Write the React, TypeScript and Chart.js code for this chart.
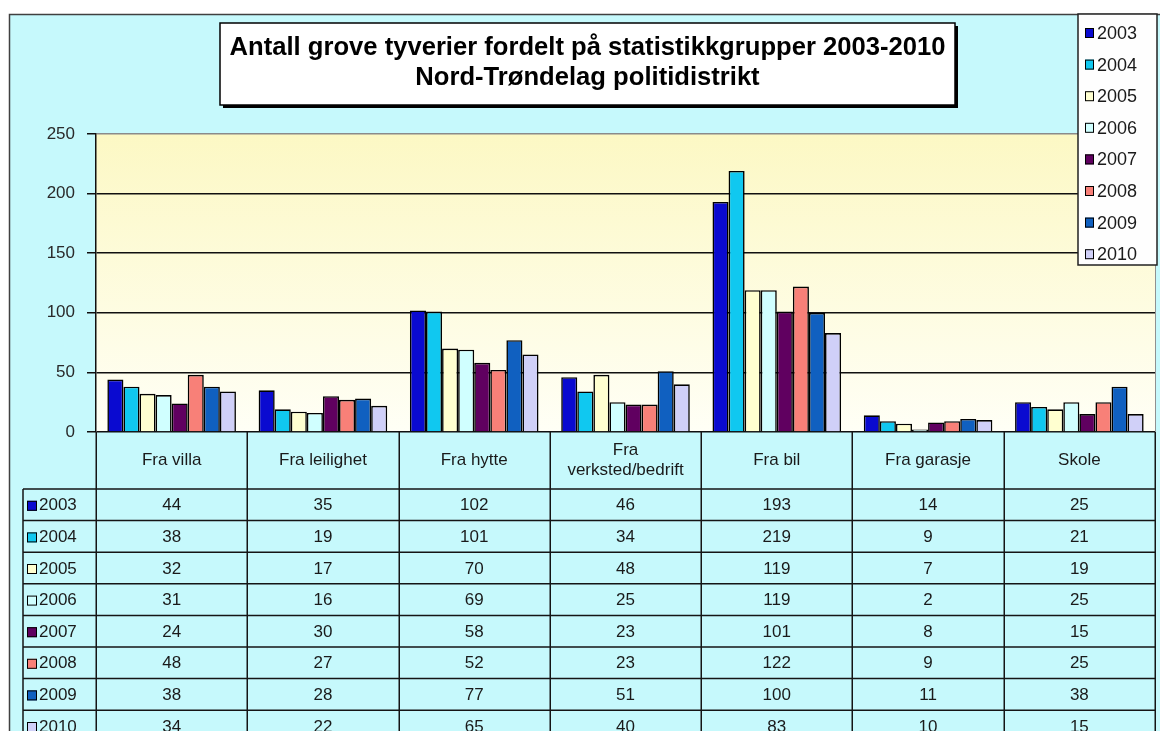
import React, { useEffect, useRef } from 'react';
import { Chart, registerables } from 'chart.js';

Chart.register(...registerables);

// ---- data ----
const categories: (string | string[])[] = [
  'Fra villa',
  'Fra leilighet',
  'Fra hytte',
  ['Fra', 'verksted/bedrift'],
  'Fra bil',
  'Fra garasje',
  'Skole',
];
const years = ['2003', '2004', '2005', '2006', '2007', '2008', '2009', '2010'];
const values2003 = [44, 35, 102, 46, 193, 14, 25];
const values2004 = [38, 19, 101, 34, 219, 9, 21];
const values2005 = [32, 17, 70, 48, 119, 7, 19];
const values2006 = [31, 16, 69, 25, 119, 2, 25];
const values2007 = [24, 30, 58, 23, 101, 8, 15];
const values2008 = [48, 27, 52, 23, 122, 9, 25];
const values2009 = [38, 28, 77, 51, 100, 11, 38];
const values2010 = [34, 22, 65, 40, 83, 10, 15];
const seriesValues = [values2003, values2004, values2005, values2006, values2007, values2008, values2009, values2010];
const titleLines = ['Antall grove tyverier fordelt på statistikkgrupper 2003-2010', 'Nord-Trøndelag politidistrikt'];
const yMin = 0;
const yMax = 250;
const yStep = 50;

// ---- styles ----
const seriesColors = ['#0a0ad0', '#10c8f0', '#ffffd0', '#d0ffff', '#600060', '#f88078', '#1060c0', '#d0d0f8'];
const FONT = 'Arial, "Liberation Sans", sans-serif';
const W = 1160;
const H = 731;

const decorPlugin = {
  id: 'decor',
  beforeDraw(chart: any) {
    const { ctx, chartArea: a, width, height } = chart;
    ctx.save();
    ctx.fillStyle = '#ffffff';
    ctx.fillRect(0, 0, width, height);
    ctx.fillStyle = '#c6f9fc';
    ctx.fillRect(9, 14, width, height);
    ctx.strokeStyle = '#404040';
    ctx.lineWidth = 1.5;
    ctx.beginPath();
    ctx.moveTo(9.5, height);
    ctx.lineTo(9.5, 14.5);
    ctx.lineTo(width, 14.5);
    ctx.stroke();
    const g = ctx.createLinearGradient(0, a.top, 0, a.bottom);
    g.addColorStop(0, '#fcf8c4');
    g.addColorStop(1, '#fffff6');
    ctx.fillStyle = g;
    ctx.fillRect(a.left, a.top, a.right - a.left, a.bottom - a.top);
    ctx.restore();
  },
  afterDraw(chart: any) {
    const { ctx, chartArea: a, height } = chart;
    const labels = chart.data.labels as (string | string[])[];
    const datasets = chart.data.datasets;
    const n = labels.length;
    const colW = (a.right - a.left) / n;
    const headTop = a.bottom;
    const headBottom = 489;
    const rowH = 31.6;
    const keyLeft = 23;

    ctx.save();
    // plot right border
    ctx.strokeStyle = '#909090';
    ctx.lineWidth = 1;
    ctx.beginPath();
    ctx.moveTo(a.right + 0.5, a.top);
    ctx.lineTo(a.right + 0.5, a.bottom);
    ctx.stroke();

    // ---- data table ----
    ctx.strokeStyle = '#151515';
    ctx.lineWidth = 1.5;
    ctx.beginPath();
    for (let i = 0; i <= n; i++) {
      const x = Math.round(a.left + i * colW) + 0.25;
      ctx.moveTo(x, headTop);
      ctx.lineTo(x, height);
    }
    ctx.moveTo(keyLeft, headBottom);
    ctx.lineTo(keyLeft, height);
    for (let r = 0; r <= datasets.length; r++) {
      const y = headBottom + r * rowH;
      ctx.moveTo(keyLeft, y);
      ctx.lineTo(a.right, y);
    }
    ctx.stroke();

    ctx.fillStyle = '#1a1a1a';
    ctx.textAlign = 'center';
    ctx.textBaseline = 'middle';
    ctx.font = `17px ${FONT}`;
    const headMid = (headTop + headBottom) / 2;
    labels.forEach((lab, i) => {
      const lines = Array.isArray(lab) ? lab : [lab];
      const cx = a.left + (i + 0.5) * colW;
      const lh = 20;
      lines.forEach((ln, k) => {
        ctx.fillText(ln, cx, headMid + (k - (lines.length - 1) / 2) * lh);
      });
    });
    datasets.forEach((ds: any, r: number) => {
      const cy = headBottom + (r + 0.5) * rowH + 1;
      ctx.font = `17px ${FONT}`;
      ctx.textAlign = 'center';
      ctx.fillStyle = '#1a1a1a';
      ds.data.forEach((v: number, i: number) => {
        ctx.fillText(String(v), a.left + (i + 0.5) * colW, cy);
      });
      // key
      ctx.fillStyle = ds.backgroundColor;
      ctx.fillRect(27, cy - 5, 10, 10);
      ctx.strokeStyle = '#000';
      ctx.lineWidth = 1;
      ctx.strokeRect(27.5, cy - 4.5, 9, 9);
      ctx.fillStyle = '#1a1a1a';
      ctx.textAlign = 'left';
      ctx.font = `17px ${FONT}`;
      ctx.fillText(ds.label, 39, cy);
    });

    // ---- title box ----
    const tx = 220, ty = 23, tw = 735, th = 82;
    ctx.fillStyle = '#000';
    ctx.fillRect(tx + 3, ty + 3, tw, th);
    ctx.fillStyle = '#ffffff';
    ctx.fillRect(tx, ty, tw, th);
    ctx.strokeStyle = '#000';
    ctx.lineWidth = 1.5;
    ctx.strokeRect(tx, ty, tw, th);
    ctx.font = `bold 20px ${FONT}`;
    const w0 = ctx.measureText(titleLines[0]).width;
    const fs = 20 * 716 / w0;
    ctx.font = `bold ${fs.toFixed(2)}px ${FONT}`;
    ctx.fillStyle = '#000';
    ctx.textAlign = 'center';
    ctx.textBaseline = 'middle';
    ctx.fillText(titleLines[0], tx + tw / 2, 48);
    ctx.fillText(titleLines[1], tx + tw / 2, 78);

    // ---- legend box ----
    const lx = 1078, ly = 14, lw = 79, lh = 251;
    ctx.fillStyle = '#fefefe';
    ctx.fillRect(lx, ly, lw, lh);
    ctx.strokeStyle = '#222';
    ctx.lineWidth = 1.5;
    ctx.strokeRect(lx, ly, lw, lh);
    ctx.font = `18px ${FONT}`;
    ctx.textAlign = 'left';
    datasets.forEach((ds: any, r: number) => {
      const cy = 33 + r * 31.6;
      ctx.fillStyle = ds.backgroundColor;
      ctx.fillRect(1085, cy - 5, 9, 10);
      ctx.strokeStyle = '#000';
      ctx.lineWidth = 1;
      ctx.strokeRect(1085.5, cy - 4.5, 8, 9);
      ctx.fillStyle = '#1a1a1a';
      ctx.fillText(ds.label, 1097, cy + 1);
    });
    ctx.restore();
  },
};

export default function App() {
  const ref = useRef<HTMLCanvasElement | null>(null);
  useEffect(() => {
    document.body.style.margin = '0';
    const canvas = ref.current;
    if (!canvas) return;
    const chart = new Chart(canvas, {
      type: 'bar',
      data: {
        labels: categories,
        datasets: years.map((y, i) => ({
          label: y,
          data: seriesValues[i],
          backgroundColor: seriesColors[i],
          borderColor: '#000000',
          borderWidth: 1.6,
          categoryPercentage: 0.85,
          barPercentage: 1.0,
        })),
      },
      options: {
        responsive: false,
        animation: false,
        devicePixelRatio: 1,
        layout: { padding: { left: 16, top: 134, right: 5, bottom: H - 432 } },
        plugins: {
          legend: { display: false },
          title: { display: false },
          tooltip: { enabled: false },
        },
        scales: {
          x: { display: false },
          y: {
            min: yMin,
            max: yMax,
            afterFit: (s: any) => { s.width = 80; },
            ticks: {
              stepSize: yStep,
              padding: 12,
              color: '#2a2a2a',
              font: { family: FONT, size: 17 },
            },
            grid: {
              color: (c: any) => (c.tick && c.tick.value === yMax ? '#8a8a8a' : '#101010'),
              lineWidth: 1.5,
              tickLength: 9,
              tickColor: '#101010',
            },
            border: { display: true, color: '#101010', width: 1.5 },
          },
        },
      },
      plugins: [decorPlugin],
    } as any);
    return () => chart.destroy();
  }, []);
  return (
    <div style={{ position: 'absolute', left: 0, top: 0, width: W, height: H }}>
      <canvas ref={ref} width={W} height={H} style={{ width: W, height: H, display: 'block' }} />
    </div>
  );
}
